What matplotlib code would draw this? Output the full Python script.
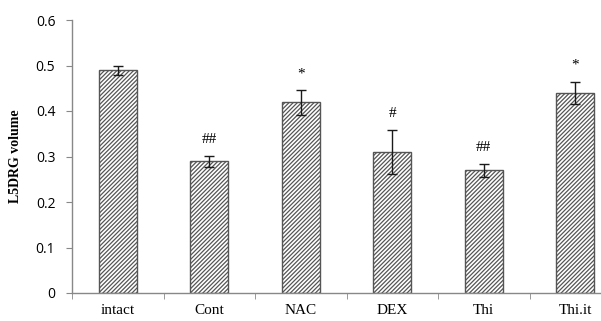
import matplotlib
matplotlib.use("Agg")
import matplotlib.pyplot as plt
import numpy as np

categories = ["intact", "Cont", "NAC", "DEX", "Thi", "Thi.it"]
values = [0.49, 0.29, 0.419, 0.31, 0.27, 0.44]
errors = [0.010, 0.012, 0.027, 0.048, 0.014, 0.024]
marks = ["", "##", "*", "#", "##", "*"]
yticks = [0, 0.1, 0.2, 0.3, 0.4, 0.5, 0.6]
ytick_labels = ["0", "0.1", "0.2", "0.3", "0.4", "0.5", "0.6"]

plt.rcParams['hatch.linewidth'] = 0.9
plt.rcParams['hatch.color'] = '#3a3a3a'

W, H = 601, 321
fig = plt.figure(figsize=(W/100, H/100), dpi=100)
left, right = 72, 621
bottom, top = 293, 20
ax = fig.add_axes([left/W, 1 - bottom/H, (right-left)/W, (bottom-top)/H])

x = np.arange(len(categories))
ax.bar(x, values, width=0.41, color='white', edgecolor='#555555', linewidth=1.0,
       hatch='////////', zorder=2)
ax.errorbar(x, values, yerr=errors, fmt='none', ecolor='#1a1a1a', elinewidth=1.0,
            capsize=3.5, capthick=1.0, zorder=3)
for xi, v, e, m in zip(x, values, errors, marks):
    if m:
        ax.text(xi, v + e + 0.022, m, ha='center', va='bottom',
                fontsize=11, family='Liberation Serif', color='black')

ax.set_xlim(-0.5, len(categories) - 0.5)
ax.set_ylim(0, 0.6)
ax.set_yticks(yticks)
ax.set_yticklabels(ytick_labels, family='Open Sans', fontsize=10)
ax.set_xticks(x)
ax.set_xticklabels(categories, family='Liberation Serif', fontsize=11)
ax.set_xticks(np.arange(-0.5, len(categories)), minor=True)
ax.tick_params(axis='x', which='major', length=0, pad=8)
ax.tick_params(axis='x', which='minor', length=4, color='#888888', direction='out')
ax.tick_params(axis='y', length=4, color='#888888', direction='out', pad=8)

for s in ['top', 'right']:
    ax.spines[s].set_visible(False)
for s in ['left', 'bottom']:
    ax.spines[s].set_color('#888888')
    ax.spines[s].set_linewidth(1.0)

ax.set_ylabel("L5DRG volume", family='Liberation Serif', fontweight='bold',
              fontsize=10, labelpad=10)

fig.savefig("out.png", dpi=100)
